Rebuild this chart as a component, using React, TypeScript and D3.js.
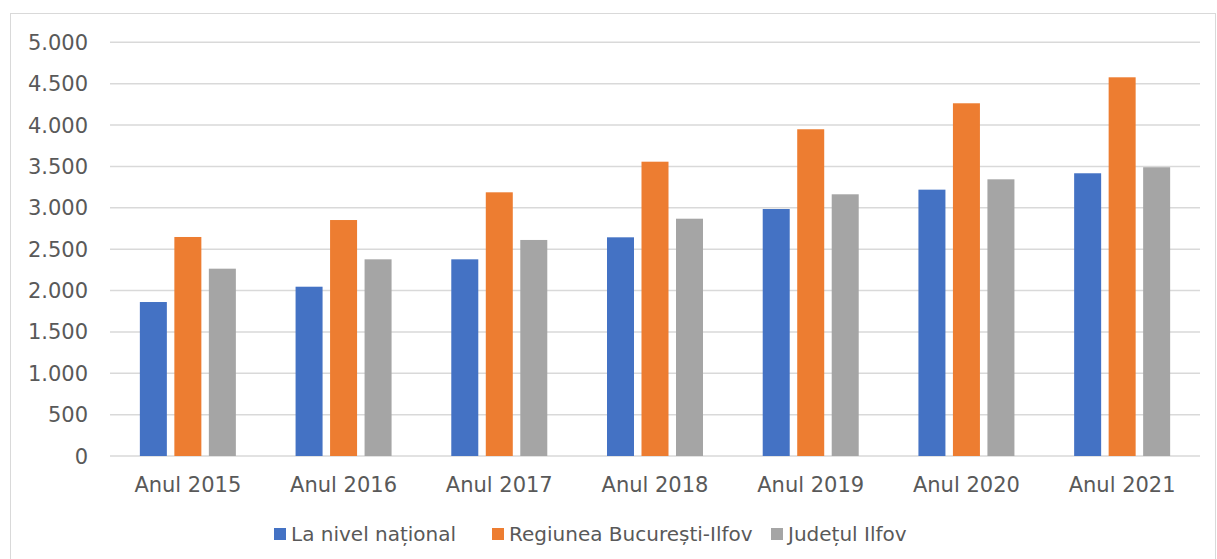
import React from "react";
import * as d3 from "d3";

const years = ["Anul 2015", "Anul 2016", "Anul 2017", "Anul 2018", "Anul 2019", "Anul 2020", "Anul 2021"];
const seriesNames = ["La nivel național", "Regiunea București-Ilfov", "Județul Ilfov"];
const national = [1861, 2046, 2377, 2643, 2985, 3219, 3417];
const bucurestiIlfov = [2647, 2852, 3187, 3557, 3949, 4263, 4577];
const judetIlfov = [2264, 2377, 2611, 2868, 3163, 3344, 3490];
const yTicks = [0, 500, 1000, 1500, 2000, 2500, 3000, 3500, 4000, 4500, 5000];
const colors = ["#4472c4", "#ed7d31", "#a5a5a5"];

const W = 1217;
const H = 559;
const fmt = (v: number) => d3.format(",")(v).replace(/,/g, ".");
const font = "'DejaVu Sans', Verdana, sans-serif";

export default function App() {
  const allSeries = [national, bucurestiIlfov, judetIlfov];

  const x = d3.scaleBand<string>().domain(years).range([110, 1200]).paddingInner(0).paddingOuter(0);
  const y = d3.scaleLinear().domain([0, 5000]).range([456, 42.3]);

  // inner band: 3 bars, 27px wide, 34.5px step
  const groupW = 96;
  const inner = d3
    .scaleBand<number>()
    .domain([0, 1, 2])
    .range([0, groupW])
    .paddingInner(7.5 / 34.5)
    .paddingOuter(0);
  const off = (x.bandwidth() - groupW) / 2;

  // legend layout (measured)
  const legendX = [274, 492, 771];

  return (
    <svg width={W} height={H} style={{ position: "absolute", left: 0, top: 0, background: "#fff" }}>
      <rect x={10.5} y={13.5} width={1205} height={570} fill="#fff" stroke="#d9d9d9" strokeWidth={1} />

      {/* gridlines */}
      <g>
        {yTicks.map((t) => (
          <line key={t} x1={110} x2={1200} y1={y(t)} y2={y(t)} stroke="#d9d9d9" strokeWidth={1.5} />
        ))}
      </g>

      {/* y tick labels */}
      <g fill="#595959" style={{ fontFamily: font, fontSize: 21 }}>
        {yTicks.map((t) => (
          <text key={t} x={88} y={y(t)} dy="0.36em" textAnchor="end">
            {fmt(t)}
          </text>
        ))}
      </g>

      {/* bars */}
      <g>
        {years.map((yr, i) => (
          <g key={yr} transform={`translate(${x(yr)! + off},0)`}>
            {allSeries.map((s, k) => (
              <rect
                key={k}
                x={inner(k)}
                y={y(s[i])}
                width={inner.bandwidth()}
                height={y(0) - y(s[i])}
                fill={colors[k]}
              />
            ))}
          </g>
        ))}
      </g>

      {/* category labels */}
      <g fill="#595959" style={{ fontFamily: font, fontSize: 21 }}>
        {years.map((yr) => (
          <text key={yr} x={x(yr)! + x.bandwidth() / 2} y={492} textAnchor="middle">
            {yr}
          </text>
        ))}
      </g>

      {/* legend */}
      <g fill="#595959" style={{ fontFamily: font, fontSize: 20 }}>
        {seriesNames.map((n, k) => (
          <g key={n} transform={`translate(${legendX[k]},528)`}>
            <rect width={12} height={12} fill={colors[k]} />
            <text x={17} y={6} dy="0.36em">
              {n}
            </text>
          </g>
        ))}
      </g>
    </svg>
  );
}
